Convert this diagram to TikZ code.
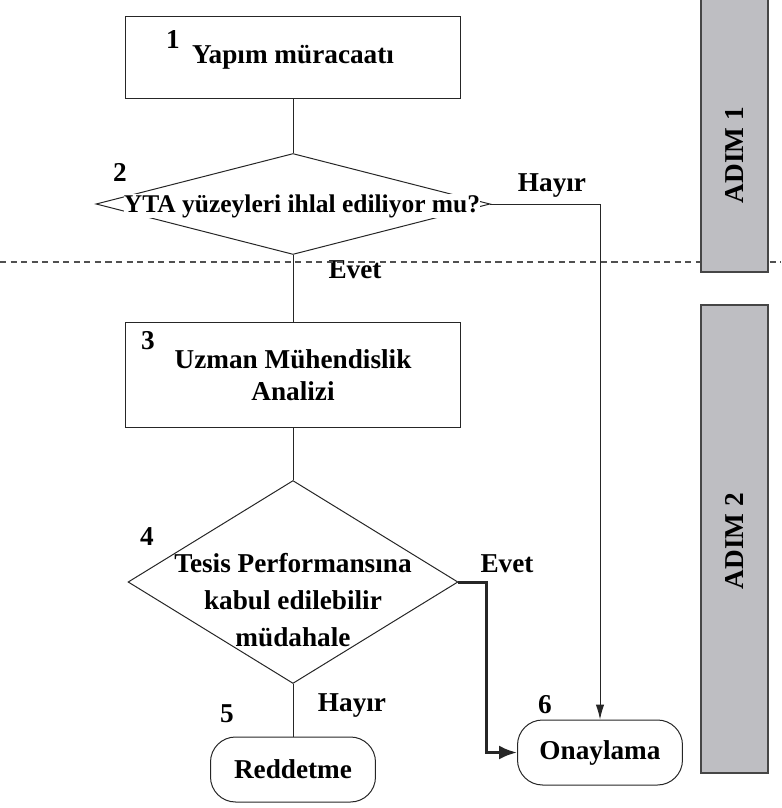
\documentclass[tikz,border=0pt]{standalone}
\usepackage{fontspec}
\setmainfont{Liberation Serif}
\usetikzlibrary{arrows.meta}
\usetikzlibrary{shapes.geometric}
\tikzset{>={Latex[length=3mm,width=1.7mm]}}
\definecolor{adimgray}{RGB}{190,190,194}
\definecolor{adimedge}{RGB}{70,70,70}
\definecolor{dashgray}{RGB}{80,80,80}
\tikzstyle{flowline}=[draw=black!85,line width=0.2mm]
\tikzstyle{boldline}=[draw=black!85,line width=0.6mm]
\tikzstyle{stepbox}=[draw=black!85,line width=0.2mm,minimum width=6.72cm,align=center,font=\bfseries\fontsize{15.5}{19}\selectfont]
\tikzstyle{endbox}=[draw=black!85,line width=0.2mm,rounded corners=0.5cm,minimum width=3.3cm,minimum height=1.3cm,font=\bfseries\fontsize{15.5}{19}\selectfont]
\tikzstyle{decision}=[draw=black!85,line width=0.2mm,diamond,inner sep=0pt]
\tikzstyle{boldtext}=[font=\bfseries\fontsize{15.5}{21}\selectfont,align=center]
\tikzstyle{adimbar}=[draw=adimedge,fill=adimgray,line width=0.3mm]

\begin{document}
\begin{tikzpicture}[x=0.02cm,y=-0.02cm]
    \useasboundingbox (0,0) rectangle (781,808);

    % Steps
    \node[stepbox,minimum height=1.66cm] (b1) at (293,57.5) {Yapım müracaatı};
    \node[decision,minimum width=7.88cm,minimum height=2.02cm] (d2) at (293,204) {};
    \node[boldtext,font=\bfseries\fontsize{14.5}{18}\selectfont,fill=white,inner sep=0pt] (t2) at (302,206) {YTA yüzeyleri ihlal ediliyor mu?};
    \node[stepbox,minimum height=2.12cm] (b3) at (293,375) {Uzman Mühendislik\\[-1pt]Analizi};
    \node[decision,minimum width=6.6cm,minimum height=4.06cm] (d4) at (293,582) {};
    \node[boldtext] (t4) at (293,600) {Tesis Performansına\\kabul edilebilir\\müdahale};
    \node[endbox] (red) at (293,769.5) {Reddetme};
    \node[endbox] (on) at (600,752.5) {Onaylama};

    % Numbers
    \node[boldtext] (n1) at (173,40) {1};
    \node[boldtext] (n2) at (120,172) {2};
    \node[boldtext] (n3) at (148,341) {3};
    \node[boldtext] (n4) at (147,537) {4};
    \node[boldtext] (n5) at (227,714) {5};
    \node[boldtext] (n6) at (545,705) {6};

    % Connectors
    \draw[flowline] (b1.south) -- (d2.north);
    \draw[flowline] (d2.south) -- (b3.north);
    \draw[flowline] (b3.south) -- (d4.north);
    \draw[flowline] (d4.south) -- (red.north);
    \draw[flowline,->] (d2.east) -| (on.north);
    \coordinate (evetbend) at (486,752.5);
    \draw[boldline,-{Latex[length=3.6mm,width=2.8mm]}] (d4.east) -| (evetbend) -- (on.west);

    % Answers
    \node[boldtext] (h1) at (552,186) {Hayır};
    \node[boldtext] (e1) at (355,270) {Evet};
    \node[boldtext] (e2) at (507,564) {Evet};
    \node[boldtext] (h2) at (352,706) {Hayır};

    % Stages
    \draw[dashgray,dash pattern=on 3.5pt off 2.5pt,line width=0.25mm] (0,262) -- (781,262);
    \draw[adimbar] (701,-2) rectangle (768,272);
    \draw[adimbar] (701,305) rectangle (768,773);
    \node[boldtext,rotate=90] (a1) at (734.5,155) {ADIM 1};
    \node[boldtext,rotate=90] (a2) at (734.5,541) {ADIM 2};
\end{tikzpicture}
\end{document}
